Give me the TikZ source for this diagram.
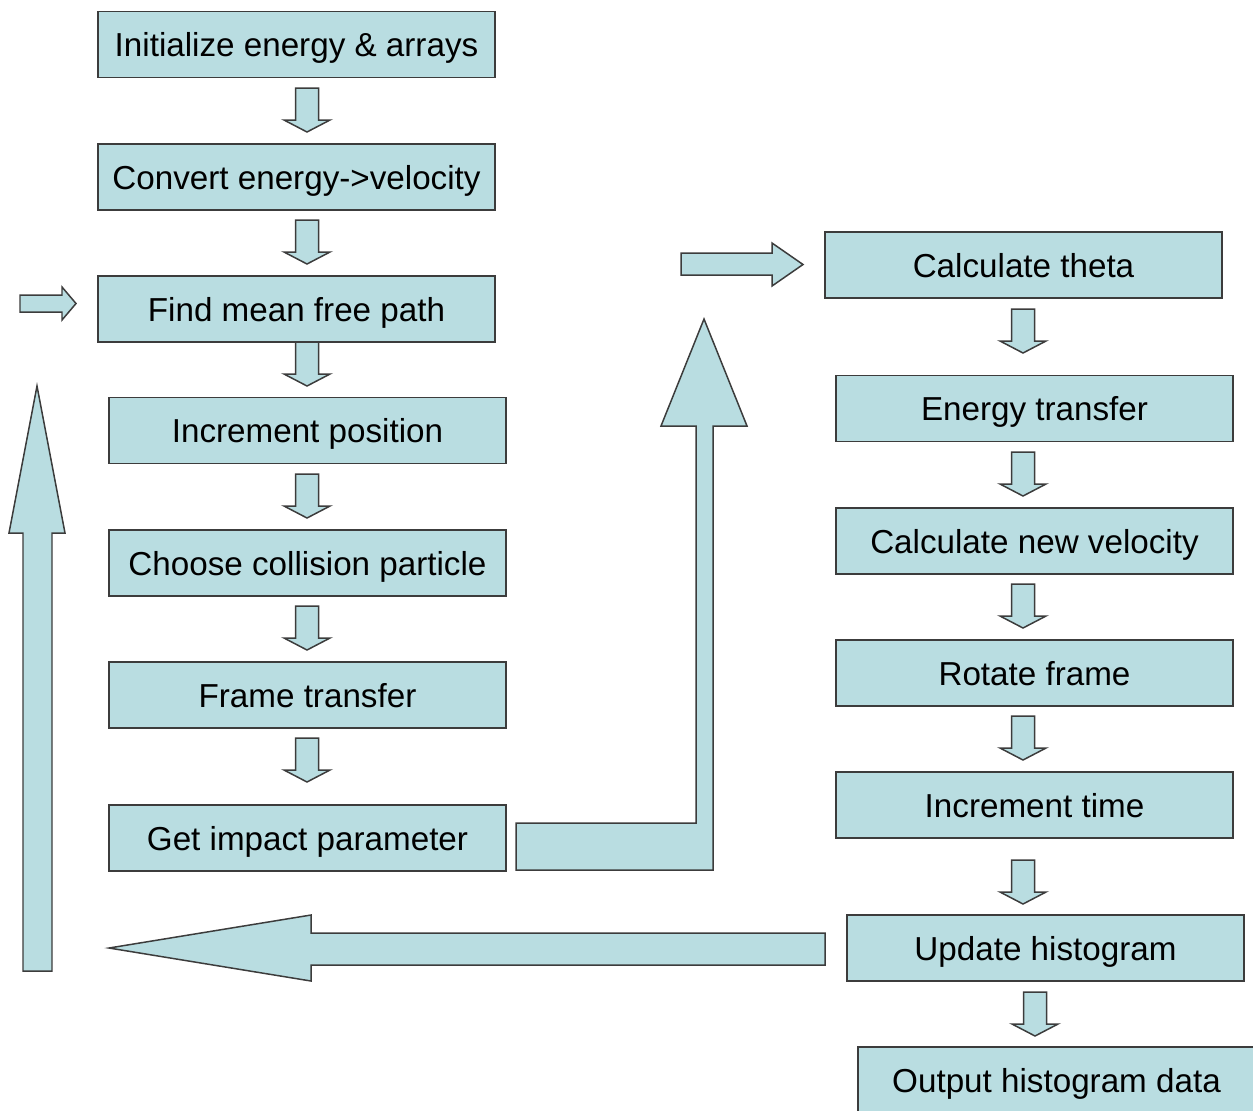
\documentclass[tikz,border=0pt]{standalone}
\usepackage{fontspec}
\setmainfont{Liberation Sans}
\usetikzlibrary{calc}
\definecolor{boxfill}{HTML}{B9DDE1}
\definecolor{boxline}{HTML}{3C3C3C}
\tikzset{
  stepbox/.style={draw=boxline, fill=boxfill, line width=0.95pt, inner sep=0pt, outer sep=0pt,
    minimum width=7.94cm, minimum height=1.32cm, text depth=0pt, font=\fontsize{18.9}{22}\selectfont},
  blockarrow/.style={draw=boxline, fill=boxfill, line width=0.85pt, line join=miter},
  darr/.pic={\path[blockarrow] (-11.5,-22) -- (11.5,-22) -- (11.5,10) -- (23,10) -- (0,22) -- (-23,10) -- (-11.5,10) -- cycle;}
}
\begin{document}
\begin{tikzpicture}[x=0.02cm, y=-0.02cm]
\useasboundingbox (0,0) rectangle (1253,1110);
\clip (0,0) rectangle (1253,1110);
% left column
\node[stepbox] (n1) at (296.5,44.5) {Initialize energy \& arrays};
\node[stepbox] (n2) at (296.5,177) {Convert energy->velocity};
\node[stepbox] (n3) at (296.5,309) {Find mean free path};
\node[stepbox] (n4) at (307.5,430.5) {Increment position};
\node[stepbox] (n5) at (307.5,563) {Choose collision particle};
\node[stepbox] (n6) at (307.5,695) {Frame transfer};
\node[stepbox] (n7) at (307.5,838) {Get impact parameter};
% right column
\node[stepbox] (r1) at (1023.5,265) {Calculate theta};
\node[stepbox] (r2) at (1034.5,408.5) {Energy transfer};
\node[stepbox] (r3) at (1034.5,541) {Calculate new velocity};
\node[stepbox] (r4) at (1034.5,673) {Rotate frame};
\node[stepbox] (r5) at (1034.5,805) {Increment time};
\node[stepbox] (r6) at (1045.5,948) {Update histogram};
\node[stepbox] (r7) at (1056.5,1080) {Output histogram data};
% small down arrows
\foreach \yy in {110,242,364,496,628,760} \path (307,\yy) pic {darr};
\foreach \yy in {331,474,606,738,882} \path (1023,\yy) pic {darr};
\path (1035,1014) pic {darr};
% small right arrow into Find mean free path
\path[blockarrow] (20,295) -- (62,295) -- (62,287) -- (76,303.5) -- (62,320) -- (62,312) -- (20,312) -- cycle;
% right arrow into Calculate theta
\path[blockarrow] (681,253) -- (772,253) -- (772,243) -- (803,264.5) -- (772,286) -- (772,275) -- (681,275) -- cycle;
% bent arrow from Get impact parameter
\path[blockarrow] (516,823) -- (696,823) -- (696,426) -- (661,426) -- (704,319) -- (747,426) -- (713,426) -- (713,870) -- (516,870) -- cycle;
% big up arrow on the left
\path[blockarrow] (23,971) -- (23,533) -- (9,533) -- (37,386) -- (65,533) -- (52,533) -- (52,971) -- cycle;
% big left arrow at the bottom
\path[blockarrow] (825,933) -- (311,933) -- (311,915) -- (109,948) -- (311,981) -- (311,965) -- (825,965) -- cycle;
\end{tikzpicture}
\end{document}
